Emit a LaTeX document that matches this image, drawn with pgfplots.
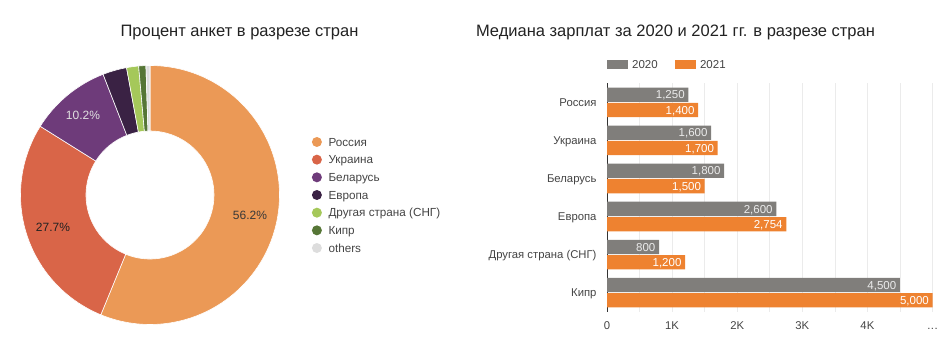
\documentclass[border=0pt]{standalone}
\usepackage{pgfplots}
\pgfplotsset{compat=1.18}
\usepackage{pgfplotstable}
\usepackage{fontspec}
\setmainfont{Liberation Sans}
\usetikzlibrary{calc}
\definecolor{cRus}{RGB}{235,153,86}
\definecolor{cUkr}{RGB}{217,101,72}
\definecolor{cBel}{RGB}{110,59,122}
\definecolor{cEur}{RGB}{58,34,68}
\definecolor{cCis}{RGB}{165,200,90}
\definecolor{cCyp}{RGB}{86,118,54}
\definecolor{cOth}{RGB}{221,221,221}
\definecolor{cGray}{RGB}{128,126,123}
\definecolor{cOrange}{RGB}{238,130,48}
\definecolor{txt}{RGB}{68,68,68}
\definecolor{ttl}{RGB}{34,34,34}
\definecolor{gridc}{RGB}{235,235,235}
\definecolor{axc}{RGB}{51,51,51}
\newcommand{\threedots}{.\kern0.5pt.\kern0.5pt.}

\pgfplotstableread{
idx y2020 y2021
0 1250 1400
1 1600 1700
2 1800 1500
3 2600 2754
4 800 1200
5 4500 5000
}\bartable

% slice: start (cumulative %), share (%), colour
\newcommand{\slice}[3]{%
  \fill[#3, draw=white, line width=0.6pt]
    ($(axis cs:0,0)+({90-3.6*#1}:129.5pt)$)
    arc[start angle={90-3.6*#1}, end angle={90-3.6*(#1+#2)}, radius=129.5pt]
    -- ($(axis cs:0,0)+({90-3.6*(#1+#2)}:64pt)$)
    arc[start angle={90-3.6*(#1+#2)}, end angle={90-3.6*#1}, radius=64pt]
    -- cycle;}

\begin{document}
\begin{tikzpicture}
\useasboundingbox (0,0) rectangle (950pt,343pt);

% titles
\node[anchor=base, text=ttl, font=\fontsize{16.5}{19}\selectfont] at (239.5pt,306pt) {Процент анкет в разрезе стран};
\node[anchor=base, text=ttl, font=\fontsize{16.5}{19}\selectfont] at (675.5pt,306pt) {Медиана зарплат за 2020 и 2021 гг. в разрезе стран};

% ---------------- donut ----------------
\begin{axis}[
  at={(150pt,148pt)}, anchor=center,
  scale only axis, x=1pt, y=1pt,
  xmin=-150, xmax=150, ymin=-150, ymax=150,
  hide axis,
  legend cell align=left,
  legend image code/.code={\fill[#1, draw=none] (5pt,0pt) circle (5pt);},
  legend style={at={(1.039,0.5)}, anchor=west, draw=none, fill=none,
    inner sep=0pt, row sep=3.07pt, text=txt,
    font=\fontsize{11.7}{14}\selectfont,
    nodes={inner sep=0pt, text height=11.6pt, text depth=3pt},
    /tikz/every odd column/.style={column sep=6.6pt}},
]
\addplot[draw=none, forget plot] coordinates {(0,0)};
\slice{0}{56.2}{cRus}
\slice{56.2}{27.7}{cUkr}
\slice{83.9}{10.2}{cBel}
\slice{94.1}{3.0}{cEur}
\slice{97.1}{1.5}{cCis}
\slice{98.6}{0.9}{cCyp}
\slice{99.5}{0.5}{cOth}
\node[text=ttl!90, font=\fontsize{12}{14}\selectfont] at (axis cs:100,-20) {56.2\%};
\node[text=ttl, font=\fontsize{12}{14}\selectfont] at (axis cs:-97,-32) {27.7\%};
\node[text=white!88!black, font=\fontsize{12}{14}\selectfont] at (axis cs:-67,80) {10.2\%};
\addlegendimage{cRus}\addlegendentry{Россия}
\addlegendimage{cUkr}\addlegendentry{Украина}
\addlegendimage{cBel}\addlegendentry{Беларусь}
\addlegendimage{cEur}\addlegendentry{Европа}
\addlegendimage{cCis}\addlegendentry{Другая страна (СНГ)}
\addlegendimage{cCyp}\addlegendentry{Кипр}
\addlegendimage{cOth}\addlegendentry{others}
\end{axis}

% ---------------- bars ----------------
\begin{axis}[
  at={(607pt,31.3pt)}, anchor=south west,
  scale only axis, width=325.5pt, height=228.4pt,
  xbar, bar width=14.3pt,
  xmin=0, xmax=5000, ymin=-0.5, ymax=5.5, y dir=reverse,
  ytick={0,1,2,3,4,5},
  yticklabels={Россия,Украина,Беларусь,Европа,Другая страна (СНГ),Кипр},
  xtick={0,1000,2000,3000,4000,5000},
  xticklabels={0,1K,2K,3K,4K,\threedots},
  minor xtick={500,1500,2500,3500,4500},
  xmajorgrids, xminorgrids,
  major grid style={draw=gridc, line width=0.7pt},
  minor grid style={draw=gridc, line width=0.7pt},
  major tick length=0pt, minor tick length=0pt,
  axis x line*=bottom, axis y line*=left,
  x axis line style={draw=none},
  y axis line style={draw=axc, line width=1pt},
  /pgf/number format/assume math mode=true,
  ticklabel style={font=\fontsize{11.3}{13}\selectfont, text=txt, inner sep=0pt, text height=8.3pt, text depth=0pt},
  yticklabel style={anchor=east, xshift=-10.3pt},
  xticklabel style={anchor=north, yshift=-9.1pt},
  point meta=x,
  nodes near coords={\pgfmathprintnumber[1000 sep={,}, assume math mode=true]{\pgfplotspointmeta}},
  every node near coord/.append style={anchor=east, xshift=-3.5pt, inner sep=0pt,
    font=\fontsize{11.5}{13}\selectfont, text height=8.3pt, text depth=0pt},
  legend columns=2,
  legend image code/.code={\fill[#1, draw=none] (0pt,-4.65pt) rectangle (20.6pt,4.65pt);},
  legend style={at={(0,1.0814)}, anchor=west, draw=none, fill=none,
    inner sep=0pt, text=txt,
    font=\fontsize{11.5}{13}\selectfont,
    nodes={inner sep=0pt, text height=11.1pt, text depth=3pt},
    /tikz/every odd column/.style={column sep=4.4pt},
    /tikz/every even column/.style={column sep=17.3pt}},
]
\addplot[forget plot, fill=cGray, draw=none, bar shift=7.65pt,
  every node near coord/.append style={text=white!92!black}] table[x=y2020, y=idx] {\bartable};
\addplot[forget plot, fill=cOrange, draw=none, bar shift=-7.65pt,
  every node near coord/.append style={text=white}] table[x=y2021, y=idx] {\bartable};
\addlegendimage{fill=cGray}\addlegendentry{2020}
\addlegendimage{fill=cOrange}\addlegendentry{2021}
\end{axis}
\end{tikzpicture}
\end{document}
